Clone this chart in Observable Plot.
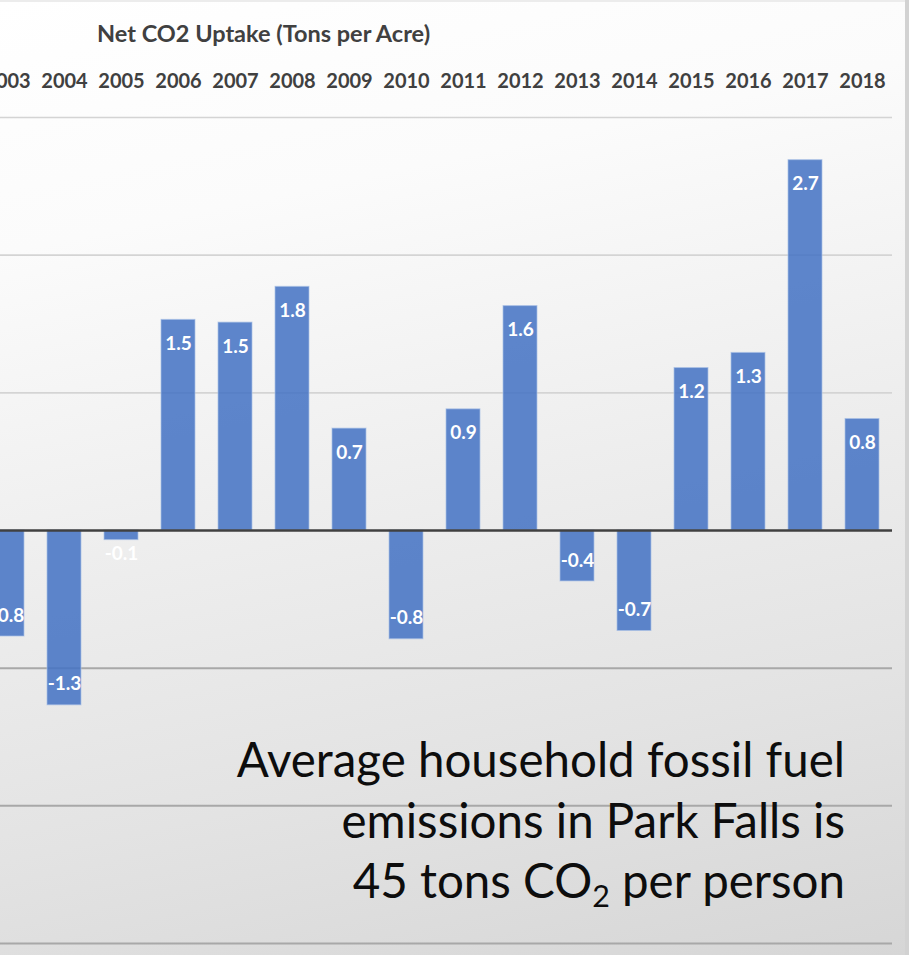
<!DOCTYPE html>
<html><head><meta charset="utf-8">
<script src="https://cdn.jsdelivr.net/npm/d3@7"></script>
<script src="https://cdn.jsdelivr.net/npm/@observablehq/plot@0.6"></script>
<style>
html,body{margin:0;padding:0;}
body{width:909px;height:955px;overflow:hidden;position:relative;font-family:Lato,"Open Sans",sans-serif;background:#d2d2d2;}
#bg{position:absolute;left:0;top:0;width:905px;height:955px;
  background:linear-gradient(168deg,#ffffff 0%,#fbfbfb 22%,#eeeeee 50%,#e3e3e3 75%,#d6d6d6 100%);
  border-top:2px solid #ececec;box-sizing:border-box;}
#chart{position:absolute;left:-22px;top:0;}
#title{position:absolute;left:97px;top:19px;font-weight:bold;font-size:23.5px;color:#404040;white-space:nowrap;}
#note{position:absolute;right:64px;top:729px;text-align:right;font-size:47.5px;line-height:60.5px;color:#0d0d0d;white-space:nowrap;}
#note sub{font-size:0.64em;vertical-align:-0.28em;line-height:0;}
</style></head>
<body>
<div id="bg"></div>
<div id="chart"></div>
<div id="title">Net CO2 Uptake (Tons per Acre)</div>
<div id="note">Average household fossil fuel<br>emissions in Park Falls is<br>45 tons CO<sub>2</sub> per person</div>
<script>
const years = ["2003","2004","2005","2006","2007","2008","2009","2010","2011","2012","2013","2014","2015","2016","2017","2018"];
const values = [-0.77,-1.27,-0.07,1.53,1.51,1.77,0.74,-0.79,0.88,1.63,-0.37,-0.73,1.18,1.29,2.69,0.81];
const gridValues = [-3,-2,-1,1,2,3];

const data = years.map((year, i) => ({year, value: values[i]}));
const fmt = v => v.toFixed(1);

const chart = Plot.plot({
  width: 931,
  height: 955,
  marginLeft: 0,
  marginRight: 17,
  marginTop: 117,
  marginBottom: 12,
  style: {fontFamily: "Lato, 'Open Sans', sans-serif", fontSize: "20px", fontWeight: "bold", color: "#404040", background: "transparent", overflow: "visible"},
  x: {type: "band", domain: years, paddingInner: 0.4, paddingOuter: 0.2, align: 0.5, axis: "top", tickSize: 0, tickPadding: 30, label: null},
  y: {domain: [-3, 3], axis: null},
  marks: [
    Plot.ruleY(gridValues, {stroke: d => d < 0 ? "#a8a8a8" : "#d4d4d4", strokeWidth: d => d < 0 ? 2 : 1.6}),
    Plot.barY(data, {x: "year", y: "value", fill: "#4472C4", fillOpacity: 0.86, stroke: "#a9c0e6", strokeWidth: 1, strokeOpacity: 0.7}),
    Plot.ruleY([0], {stroke: "#404040", strokeWidth: 2.6}),
    Plot.text(data.filter(d => d.value >= 0), {x: "year", y: "value", text: d => fmt(d.value), dy: 24, fill: "white", fontSize: 19, fontWeight: "bold"}),
    Plot.text(data.filter(d => d.value < 0), {x: "year", y: d => Math.min(d.value, -0.32), text: d => fmt(d.value), dy: -21, fill: "white", fontSize: 19, fontWeight: "bold"})
  ]
});
document.getElementById("chart").appendChild(chart);
</script>
</body></html>
